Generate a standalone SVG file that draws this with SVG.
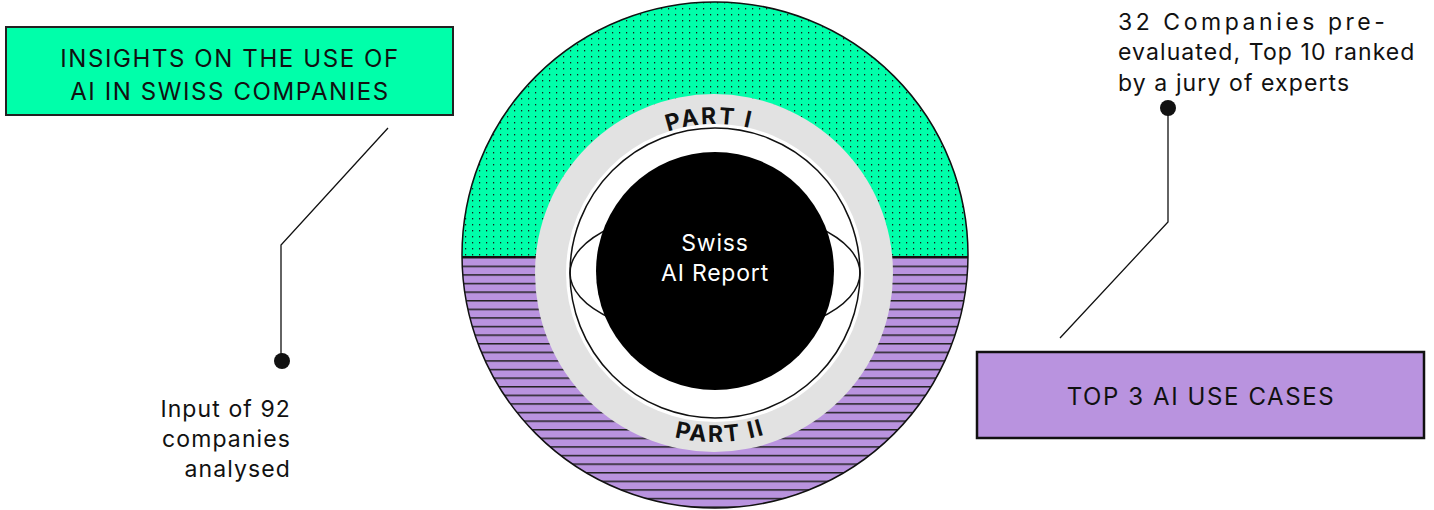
<svg xmlns="http://www.w3.org/2000/svg" width="1434" height="510" viewBox="0 0 1434 510">
<style>
.lbl{font-family:Inter,"Liberation Sans",Arial,sans-serif;font-size:23px;fill:#111;letter-spacing:1.1px}
.box{font-family:Inter,"Liberation Sans",Arial,sans-serif;font-size:24px;fill:#111;text-anchor:middle;letter-spacing:1.6px}
.ring{font-family:Inter,"Liberation Sans",Arial,sans-serif;font-size:23px;font-weight:700;fill:#111;letter-spacing:2px}
.wt{font-family:Inter,"Liberation Sans",Arial,sans-serif;font-size:23px;fill:#fff;text-anchor:middle;letter-spacing:0.8px}
.conn{fill:none;stroke:#111;stroke-width:1.3}
</style>
<defs>
<pattern id="dots" patternUnits="userSpaceOnUse" x="0" y="0" width="7" height="6">
<rect width="7" height="6" fill="#00FFAA"/>
<rect x="3" y="2" width="1.2" height="1.4" fill="#1a1a1a"/>
</pattern>
<pattern id="lines" patternUnits="userSpaceOnUse" x="0" y="257" width="86" height="8.6">
<rect width="86" height="8.6" fill="#B993DF"/>
<rect x="0" y="0" width="86" height="1.5" fill="#222"/>
</pattern>
<clipPath id="top"><rect x="440" y="0" width="560" height="257"/></clipPath>
<clipPath id="bot"><rect x="440" y="257" width="560" height="260"/></clipPath>
<path id="arcTop" d="M566,273 A149,149 0 0 1 864,273"/>
<path id="arcBot" d="M546,273 A169,169 0 0 0 884,273"/>
</defs>

<g id="outer-circle">
<circle cx="715" cy="255" r="253" fill="url(#dots)" clip-path="url(#top)"/>
<circle cx="715" cy="255" r="253" fill="url(#lines)" clip-path="url(#bot)"/>
<line x1="462" y1="257" x2="968" y2="257" stroke="#111" stroke-width="2.2"/>
<circle cx="715" cy="255" r="253" fill="none" stroke="#111" stroke-width="1.5"/>
</g>

<g id="ring">
<circle cx="714" cy="273" r="179" fill="#E2E2E2"/>
<circle cx="715" cy="273" r="149" fill="#fff"/>
<text class="ring"><textPath href="#arcTop" startOffset="48.8%" text-anchor="middle">PART I</textPath></text>
<text class="ring"><textPath href="#arcBot" startOffset="51%" text-anchor="middle">PART II</textPath></text>
</g>

<g id="core">
<circle cx="715" cy="273" r="145" fill="#fff" stroke="#111" stroke-width="1.5"/>
<ellipse cx="715" cy="273" rx="145" ry="65" fill="none" stroke="#111" stroke-width="1.5"/>
<circle cx="715" cy="271" r="119" fill="#000"/>
<text class="wt" x="715" y="251">Swiss</text>
<text class="wt" x="715" y="281">AI Report</text>
</g>

<g id="box-insights">
<rect x="6" y="27" width="447" height="88" fill="#00FFAA" stroke="#222" stroke-width="2"/>
<text class="box" x="230" y="67">INSIGHTS ON THE USE OF</text>
<text class="box" x="230" y="100">AI IN SWISS COMPANIES</text>
</g>

<g id="box-top3">
<rect x="977" y="352" width="447" height="86" fill="#B993DF" stroke="#111" stroke-width="2.5"/>
<text class="box" x="1201" y="405">TOP 3 AI USE CASES</text>
</g>

<g id="note-input">
<text class="lbl" text-anchor="end" x="291" y="417">Input of 92</text>
<text class="lbl" text-anchor="end" x="291" y="447">companies</text>
<text class="lbl" text-anchor="end" x="291" y="477">analysed</text>
</g>

<g id="note-jury">
<text class="lbl" x="1118" y="30" textLength="268">32 Companies pre-</text>
<text class="lbl" x="1118" y="60">evaluated, Top 10 ranked</text>
<text class="lbl" x="1118" y="91">by a jury of experts</text>
</g>

<g id="connectors">
<polyline class="conn" points="388,128 281,245 281,358"/>
<circle cx="282" cy="361" r="8" fill="#111"/>
<polyline class="conn" points="1168,110 1168,222 1060,338"/>
<circle cx="1168" cy="108" r="8" fill="#111"/>
</g>
</svg>
